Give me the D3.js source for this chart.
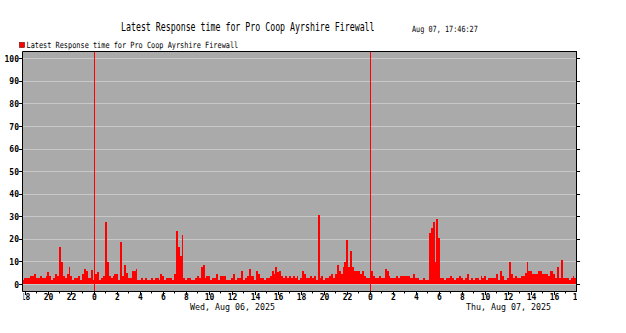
<!DOCTYPE html>
<html><head><meta charset="utf-8">
<script src="https://cdn.jsdelivr.net/npm/d3@7"></script>
<style>html,body{margin:0;padding:0;background:#fff;} svg{display:block;}</style>
</head><body>
<svg id="chart" width="626" height="333"></svg>
<script>
// ---- data ----
const titleText = "Latest Response time for Pro Coop Ayrshire Firewall";
const legendLabel = "Latest Response time for Pro Coop Ayrshire Firewall";
const stampText = "Aug 07, 17:46:27";
const dayLabels = ["Wed, Aug 06, 2025", "Thu, Aug 07, 2025"];
const dayNoons = [new Date(2025, 7, 6, 12), new Date(2025, 7, 7, 12)];
const midnights = [new Date(2025, 7, 6, 0), new Date(2025, 7, 7, 0)];
const yTicks = [0, 10, 20, 30, 40, 50, 60, 70, 80, 90, 100];
const viewStart = new Date(2025, 7, 5, 17, 44, 21);
const viewEnd = new Date(2025, 7, 7, 17, 57, 25);
const stepMinutes = 10;
const responseTime = [
 2,2.9,2.9,2.9,3.8,3.8,4.5,2.9,2.9,3.8, 2.9,2.9,3.8,5.6,3.8,2,2.9,4.7,3.8,16.8,
 10,3.8,2.9,4.7,7.6,3.8,2,2.9,2.9,3.8, 2,4.7,6.9,6,2.9,2.9,6.5,2,4.7,5.5,
 2,2.9,3.8,27.8,10,3.8,2.9,3.8,4.7,4.7, 2,18.9,3.8,8.7,5,2.9,2.9,6,6,6.9,
 2,2,2.9,2,2.9,2,2,2.9,2,2.9, 2.9,2,4.7,3.8,2,2.9,2.9,2.9,2,4.7,
 23.8,16.7,12.7,22,2.9,2,2.9,2.9,2,2, 2.9,3.8,2.9,7.8,8.7,2.9,3.8,3.8,2,2.9,
 2.9,4.7,2,3.8,3.8,3.8,2,2,2,2.9, 4.7,2,2.9,2.9,6,2,2.9,3.8,6.9,3.8,
 3.8,2,6,4.7,2.9,2.9,2,2.9,2.9,3.8, 6,4.7,7.6,5.6,6,3.8,2.9,3.8,2.9,3.8,
 2.9,3.8,2.9,3.8,2,2.9,6,4.7,2.9,2.9, 3.8,2.9,3.8,2,30.9,2.9,3.8,2,2.9,2.9,
 3.8,4.7,2.9,4.7,8.7,6,4.7,7.6,10,19.8, 7.6,14.9,7.6,6,6,6,4.7,6,3.8,2.9,
 2.9,2.9,6,3.8,2.9,2.9,3.8,2.9,2.9,6.9, 6,3.8,2.9,2.9,2.9,3.8,2.9,3.8,3.8,3.8,
 3.8,3.8,2.9,2.9,4.7,2.9,2.9,2,2,2.9, 2,2,23,25.2,27.8,10,29.1,20.7,2.9,2.9,
 2,2.9,2.9,3.8,2.9,2,2.9,2.9,3.8,2.9, 2,2.9,4.7,2,2.9,2,2.9,2.9,2,3.8,
 2.9,3.8,2,2.9,2.9,2.9,2.9,4.7,2,6, 3.8,2,2,2.9,10,4.7,2.9,3.8,2.9,2.9,
 3.8,3.8,5,10,6,6,4.7,4.7,4.7,6, 6,4.7,4.7,4.7,3.8,6,6,4.7,2.9,7.8,
 2.9,10.8,2.9,2.9,2.9,2,2.9,3.8,2.9
];

// ---- layout ----
const W = 626, H = 333;
const plot = {left: 22.5, right: 576.5, top: 51.5, bottom: 291.5};
const mono = "'DejaVu Sans Mono', 'Liberation Mono', monospace";
const red = "#ff0000";

const svg = d3.select("#chart");
svg.append("rect").attr("width", W).attr("height", H).attr("fill", "#fff");

const x = d3.scaleTime().domain([viewStart, viewEnd]).range([22.5, 577]);
const y = d3.scaleLinear().domain([0, 100]).range([284.5, 58.8]);

const defs = svg.append("defs");
defs.append("clipPath").attr("id", "plotClip").append("rect")
  .attr("x", plot.left + 0.5).attr("y", plot.top + 0.5)
  .attr("width", plot.right - plot.left - 1).attr("height", plot.bottom - plot.top - 1);
defs.append("clipPath").attr("id", "labelClip").append("rect")
  .attr("x", 23.5).attr("y", 292).attr("width", 553.5).attr("height", 10);

// scaled text helper: draws text then squeezes it horizontally to a target width
function fitText(sel, str, x0, yb, size, width, anchor) {
  const t = sel.append("text").attr("font-family", mono).attr("font-size", size + "px")
    .attr("fill", "#000").attr("x", 0).attr("y", 0).text(str);
  const natural = t.node().getComputedTextLength();
  const sx = width / natural;
  const left = anchor === "middle" ? x0 - width / 2 : x0;
  t.attr("transform", `translate(${left},${yb}) scale(${sx},1)`);
  return t;
}

// plot background
svg.append("rect").attr("x", plot.left).attr("y", plot.top)
  .attr("width", plot.right - plot.left).attr("height", plot.bottom - plot.top)
  .attr("fill", "#aaaaaa");

// horizontal grid
const snap = v => Math.floor(v) + 0.5;
svg.append("g").selectAll("line").data(yTicks).join("line")
  .attr("x1", plot.left + 0.5).attr("x2", plot.right - 0.5)
  .attr("y1", d => snap(y(d))).attr("y2", d => snap(y(d)))
  .attr("stroke", "#c8c8c8").attr("stroke-width", 1);

// series area
const pts = responseTime.map((v, i) => ({t: d3.timeMinute.offset(viewStart, i * stepMinutes), v}));
pts.push({t: d3.timeMinute.offset(viewStart, responseTime.length * stepMinutes), v: responseTime[responseTime.length - 1]});
const area = d3.area().curve(d3.curveStepAfter)
  .x(d => x(d.t)).y0(y(0) - 1).y1(d => y(d.v));
svg.append("path").datum(pts).attr("clip-path", "url(#plotClip)")
  .attr("d", area).attr("fill", red).attr("shape-rendering", "crispEdges");

// midnight lines
svg.append("g").selectAll("line").data(midnights).join("line")
  .attr("x1", d => snap(x(d))).attr("x2", d => snap(x(d)))
  .attr("y1", plot.top + 0.5).attr("y2", 292)
  .attr("stroke", red).attr("stroke-width", 1);

// frame
const frame = svg.append("g").attr("stroke", "#000").attr("stroke-width", 1).attr("fill", "none");
frame.append("line").attr("x1", plot.left).attr("x2", plot.right + 0.5).attr("y1", plot.top).attr("y2", plot.top);
frame.append("line").attr("x1", plot.left).attr("x2", plot.left).attr("y1", plot.top).attr("y2", plot.bottom);
frame.append("line").attr("x1", plot.right).attr("x2", plot.right).attr("y1", plot.top).attr("y2", plot.bottom);
frame.append("line").attr("x1", plot.left).attr("x2", plot.right + 0.5).attr("y1", plot.bottom).attr("y2", plot.bottom);

// y ticks & labels
const yt = svg.append("g");
yt.selectAll("line.l").data(yTicks).join("line").attr("class", "l")
  .attr("x1", 19).attr("x2", 22).attr("y1", d => snap(y(d))).attr("y2", d => snap(y(d)))
  .attr("stroke", "#000");
yt.selectAll("line.r").data(yTicks).join("line").attr("class", "r")
  .attr("x1", 577).attr("x2", 580).attr("y1", d => snap(y(d))).attr("y2", d => snap(y(d)))
  .attr("stroke", "#000");
yt.selectAll("text").data(yTicks).join("text")
  .attr("x", 19).attr("y", d => y(d) + 3)
  .attr("text-anchor", "end").attr("font-family", mono).attr("font-size", "8px")
  .attr("font-weight", "bold").attr("fill", "#000")
  .text(d => d);

// x ticks
const hours = d3.timeHour.range(viewStart, viewEnd);
svg.append("g").selectAll("line").data(hours).join("line")
  .attr("x1", d => snap(x(d))).attr("x2", d => snap(x(d)))
  .attr("y1", plot.bottom).attr("y2", d => d.getHours() % 2 === 0 ? 295 : 293.5)
  .attr("stroke", "#000");
const labelHours = hours.filter(d => d.getHours() % 2 === 0);
labelHours.push(new Date(2025, 7, 7, 18));
svg.append("g").attr("clip-path", "url(#labelClip)")
  .selectAll("text").data(labelHours).join("text")
  .attr("x", d => x(d)).attr("y", 299.5)
  .attr("text-anchor", "middle").attr("font-family", mono).attr("font-size", "8px")
  .attr("font-weight", "bold").attr("fill", "#000")
  .text(d4 => d3.timeFormat("%-H")(d4));

// day labels
const dayG = svg.append("g");
dayLabels.forEach((lab, i) => fitText(dayG, lab, x(dayNoons[i]), 310, 8.5, 85, "middle"));

// title & stamp
fitText(svg, titleText, 121, 30.5, 11.5, 254, "start");
fitText(svg, stampText, 412, 31.5, 8.5, 66, "start");

// legend
svg.append("rect").attr("x", 19.5).attr("y", 42.5).attr("width", 5).attr("height", 5)
  .attr("fill", red).attr("stroke", "#600").attr("stroke-width", 0.6);
fitText(svg, legendLabel, 26.5, 47.5, 8.5, 212, "start");
</script>
</body></html>
